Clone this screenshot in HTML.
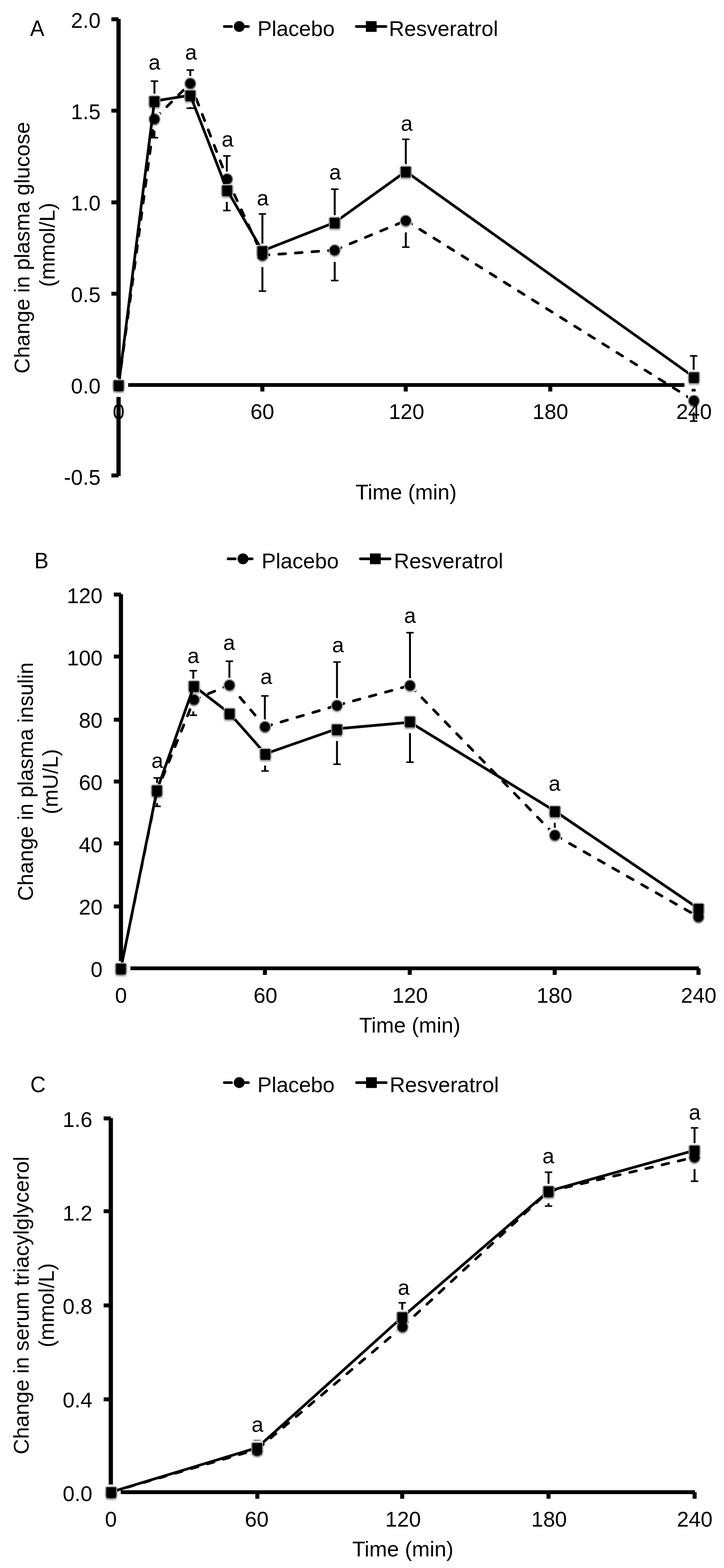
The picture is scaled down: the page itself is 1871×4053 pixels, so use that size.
<!DOCTYPE html>
<html lang="en">
<head>
<meta charset="utf-8">
<title>Figure: postprandial glucose, insulin and triacylglycerol</title>
<style>
html,body{margin:0;padding:0;background:#fff;}
body{width:1871px;height:4053px;overflow:hidden;}
svg{display:block;}
svg text{font-family:"Liberation Sans", Arial, Helvetica, sans-serif;fill:#000;}
</style>
</head>
<body>
<svg width="1871" height="4053" viewBox="0 0 1871 4053">
<defs>
<filter id="sh" x="-50%" y="-50%" width="200%" height="200%">
<feGaussianBlur in="SourceAlpha" stdDeviation="2.4" result="b"/>
<feComponentTransfer in="b"><feFuncA type="linear" slope="0.5"/></feComponentTransfer>
</filter>
</defs>
<rect x="0" y="0" width="1871" height="4053" fill="#fff"/>
<g id="panelA">
<line x1="306.35" y1="48.9" x2="306.35" y2="1230.2" stroke="#000" stroke-width="11" stroke-linecap="butt"/>
<line x1="306.35" y1="995.15" x2="1793.5" y2="995.15" stroke="#000" stroke-width="9.7" stroke-linecap="butt"/>
<line x1="287.85" y1="49.84" x2="306.35" y2="49.84" stroke="#000" stroke-width="10.2" stroke-linecap="butt"/>
<line x1="287.85" y1="286.06" x2="306.35" y2="286.06" stroke="#000" stroke-width="10.2" stroke-linecap="butt"/>
<line x1="287.85" y1="523.1" x2="306.35" y2="523.1" stroke="#000" stroke-width="10.2" stroke-linecap="butt"/>
<line x1="287.85" y1="759.15" x2="306.35" y2="759.15" stroke="#000" stroke-width="10.2" stroke-linecap="butt"/>
<line x1="287.85" y1="995.15" x2="306.35" y2="995.15" stroke="#000" stroke-width="10.2" stroke-linecap="butt"/>
<line x1="287.85" y1="1229" x2="306.35" y2="1229" stroke="#000" stroke-width="10.2" stroke-linecap="butt"/>
<line x1="306.35" y1="995.15" x2="306.35" y2="1012" stroke="#000" stroke-width="10.4" stroke-linecap="butt"/>
<line x1="678" y1="995.15" x2="678" y2="1012" stroke="#000" stroke-width="10.4" stroke-linecap="butt"/>
<line x1="1048.5" y1="995.15" x2="1048.5" y2="1012" stroke="#000" stroke-width="10.4" stroke-linecap="butt"/>
<line x1="1422" y1="995.15" x2="1422" y2="1012" stroke="#000" stroke-width="10.4" stroke-linecap="butt"/>
<line x1="1792.5" y1="995.15" x2="1792.5" y2="1012" stroke="#000" stroke-width="10.4" stroke-linecap="butt"/>
<line x1="399.1" y1="261.2" x2="399.1" y2="209.7" stroke="#000" stroke-width="5" stroke-linecap="butt"/>
<line x1="389.55" y1="209.7" x2="408.65" y2="209.7" stroke="#000" stroke-width="4" stroke-linecap="butt"/>
<line x1="399.1" y1="307.6" x2="399.1" y2="356" stroke="#000" stroke-width="5" stroke-linecap="butt"/>
<line x1="389.55" y1="356" x2="408.65" y2="356" stroke="#000" stroke-width="4" stroke-linecap="butt"/>
<line x1="491.8" y1="215.4" x2="491.8" y2="181.1" stroke="#000" stroke-width="5" stroke-linecap="butt"/>
<line x1="482.25" y1="181.1" x2="501.35" y2="181.1" stroke="#000" stroke-width="4" stroke-linecap="butt"/>
<line x1="491.8" y1="246.2" x2="491.8" y2="279.7" stroke="#000" stroke-width="5" stroke-linecap="butt"/>
<line x1="482.25" y1="279.7" x2="501.35" y2="279.7" stroke="#000" stroke-width="4" stroke-linecap="butt"/>
<line x1="586.2" y1="462.5" x2="586.2" y2="403" stroke="#000" stroke-width="5" stroke-linecap="butt"/>
<line x1="576.65" y1="403" x2="595.75" y2="403" stroke="#000" stroke-width="4" stroke-linecap="butt"/>
<line x1="586.2" y1="491.5" x2="586.2" y2="544.2" stroke="#000" stroke-width="5" stroke-linecap="butt"/>
<line x1="576.65" y1="544.2" x2="595.75" y2="544.2" stroke="#000" stroke-width="4" stroke-linecap="butt"/>
<line x1="678.1" y1="648.6" x2="678.1" y2="553" stroke="#000" stroke-width="5" stroke-linecap="butt"/>
<line x1="668.55" y1="553" x2="687.65" y2="553" stroke="#000" stroke-width="4" stroke-linecap="butt"/>
<line x1="678.1" y1="660" x2="678.1" y2="752.5" stroke="#000" stroke-width="5" stroke-linecap="butt"/>
<line x1="668.55" y1="752.5" x2="687.65" y2="752.5" stroke="#000" stroke-width="4" stroke-linecap="butt"/>
<line x1="865" y1="575" x2="865" y2="489" stroke="#000" stroke-width="5" stroke-linecap="butt"/>
<line x1="855.45" y1="489" x2="874.55" y2="489" stroke="#000" stroke-width="4" stroke-linecap="butt"/>
<line x1="865" y1="646.6" x2="865" y2="725.2" stroke="#000" stroke-width="5" stroke-linecap="butt"/>
<line x1="855.45" y1="725.2" x2="874.55" y2="725.2" stroke="#000" stroke-width="4" stroke-linecap="butt"/>
<line x1="1048.7" y1="443.2" x2="1048.7" y2="360" stroke="#000" stroke-width="5" stroke-linecap="butt"/>
<line x1="1039.15" y1="360" x2="1058.25" y2="360" stroke="#000" stroke-width="4" stroke-linecap="butt"/>
<line x1="1048.7" y1="570.2" x2="1048.7" y2="638.7" stroke="#000" stroke-width="5" stroke-linecap="butt"/>
<line x1="1039.15" y1="638.7" x2="1058.25" y2="638.7" stroke="#000" stroke-width="4" stroke-linecap="butt"/>
<line x1="1792.6" y1="974.8" x2="1792.6" y2="919.9" stroke="#000" stroke-width="5" stroke-linecap="butt"/>
<line x1="1783.05" y1="919.9" x2="1802.15" y2="919.9" stroke="#000" stroke-width="4" stroke-linecap="butt"/>
<line x1="1792.6" y1="1035.6" x2="1792.6" y2="1088.5" stroke="#000" stroke-width="5" stroke-linecap="butt"/>
<line x1="1783.05" y1="1088.5" x2="1802.15" y2="1088.5" stroke="#000" stroke-width="4" stroke-linecap="butt"/>
<rect x="282.1" y="976.7" width="49" height="49.2" fill="#fff"/>
<rect x="374.6" y="288.8" width="49" height="49.2" fill="#fff"/>
<rect x="467.3" y="196.6" width="49" height="49.2" fill="#fff"/>
<rect x="562.5" y="443.7" width="49" height="49.2" fill="#fff"/>
<rect x="653.6" y="641.2" width="49" height="49.2" fill="#fff"/>
<rect x="840.5" y="627.8" width="49" height="49.2" fill="#fff"/>
<rect x="1024.2" y="551.4" width="49" height="49.2" fill="#fff"/>
<rect x="1768.8" y="1016.8" width="49" height="49.2" fill="#fff"/>
<rect x="282.1" y="976.7" width="49" height="49.2" fill="#fff"/>
<rect x="374.6" y="242.4" width="49" height="49.2" fill="#fff"/>
<rect x="467.3" y="227.4" width="49" height="49.2" fill="#fff"/>
<rect x="562.5" y="472.7" width="49" height="49.2" fill="#fff"/>
<rect x="653.6" y="629.8" width="49" height="49.2" fill="#fff"/>
<rect x="840.5" y="556.2" width="49" height="49.2" fill="#fff"/>
<rect x="1024.2" y="424.4" width="49" height="49.2" fill="#fff"/>
<rect x="1768.8" y="956" width="49" height="49.2" fill="#fff"/>
<line x1="306.6" y1="995.5" x2="399.1" y2="307.6" stroke="#000" stroke-width="7" stroke-linecap="round" stroke-dasharray="17.4 25.5" stroke-dashoffset="39.71"/>
<line x1="399.1" y1="307.6" x2="491.8" y2="215.4" stroke="#000" stroke-width="7" stroke-linecap="round" stroke-dasharray="17.4 25.5" stroke-dashoffset="40.67"/>
<line x1="491.8" y1="215.4" x2="587" y2="462.5" stroke="#000" stroke-width="7" stroke-linecap="round" stroke-dasharray="17.4 25.5" stroke-dashoffset="42.82"/>
<line x1="587" y1="462.5" x2="678.1" y2="660" stroke="#000" stroke-width="7" stroke-linecap="round" stroke-dasharray="17.4 25.5" stroke-dashoffset="41.04"/>
<line x1="678.1" y1="660" x2="865" y2="646.6" stroke="#000" stroke-width="7" stroke-linecap="round" stroke-dasharray="17.4 25.5" stroke-dashoffset="0.32"/>
<line x1="865" y1="646.6" x2="1048.7" y2="570.2" stroke="#000" stroke-width="7" stroke-linecap="round" stroke-dasharray="17.4 25.5" stroke-dashoffset="42.8"/>
<line x1="1048.7" y1="570.2" x2="1793.3" y2="1035.6" stroke="#000" stroke-width="7" stroke-linecap="round" stroke-dasharray="17.4 25.5" stroke-dashoffset="0.23"/>
<rect x="291.25" y="980.15" width="30.7" height="30.7" fill="#fff"/>
<circle cx="306.6" cy="999.5" r="13" fill="#000" filter="url(#sh)"/>
<circle cx="306.6" cy="995.5" r="12.5" fill="#000" stroke="#000" stroke-opacity="0.42" stroke-width="5.6" paint-order="stroke"/>
<rect x="383.75" y="292.25" width="30.7" height="30.7" fill="#fff"/>
<circle cx="399.1" cy="311.6" r="13" fill="#000" filter="url(#sh)"/>
<circle cx="399.1" cy="307.6" r="12.5" fill="#000" stroke="#000" stroke-opacity="0.42" stroke-width="5.6" paint-order="stroke"/>
<rect x="476.45" y="200.05" width="30.7" height="30.7" fill="#fff"/>
<circle cx="491.8" cy="219.4" r="13" fill="#000" filter="url(#sh)"/>
<circle cx="491.8" cy="215.4" r="12.5" fill="#000" stroke="#000" stroke-opacity="0.42" stroke-width="5.6" paint-order="stroke"/>
<rect x="571.65" y="447.15" width="30.7" height="30.7" fill="#fff"/>
<circle cx="587" cy="466.5" r="13" fill="#000" filter="url(#sh)"/>
<circle cx="587" cy="462.5" r="12.5" fill="#000" stroke="#000" stroke-opacity="0.42" stroke-width="5.6" paint-order="stroke"/>
<rect x="662.75" y="644.65" width="30.7" height="30.7" fill="#fff"/>
<circle cx="678.1" cy="664" r="13" fill="#000" filter="url(#sh)"/>
<circle cx="678.1" cy="660" r="12.5" fill="#000" stroke="#000" stroke-opacity="0.42" stroke-width="5.6" paint-order="stroke"/>
<rect x="849.65" y="631.25" width="30.7" height="30.7" fill="#fff"/>
<circle cx="865" cy="650.6" r="13" fill="#000" filter="url(#sh)"/>
<circle cx="865" cy="646.6" r="12.5" fill="#000" stroke="#000" stroke-opacity="0.42" stroke-width="5.6" paint-order="stroke"/>
<rect x="1033.35" y="554.85" width="30.7" height="30.7" fill="#fff"/>
<circle cx="1048.7" cy="574.2" r="13" fill="#000" filter="url(#sh)"/>
<circle cx="1048.7" cy="570.2" r="12.5" fill="#000" stroke="#000" stroke-opacity="0.42" stroke-width="5.6" paint-order="stroke"/>
<rect x="1777.95" y="1020.25" width="30.7" height="30.7" fill="#fff"/>
<circle cx="1793.3" cy="1039.6" r="13" fill="#000" filter="url(#sh)"/>
<circle cx="1793.3" cy="1035.6" r="12.5" fill="#000" stroke="#000" stroke-opacity="0.42" stroke-width="5.6" paint-order="stroke"/>
<polyline points="306.6,995.5 399.1,261.2 491.8,246.2 587,491.5 678.1,648.6 865,575 1048.7,443.2 1793.3,974.8" fill="none" stroke="#000" stroke-width="7" stroke-linecap="butt" stroke-linejoin="round"/>
<rect x="291.25" y="980.15" width="30.7" height="30.7" fill="#fff"/>
<rect x="293" y="986.5" width="27.2" height="28" fill="#000" filter="url(#sh)"/>
<rect x="291.25" y="983.2" width="30.7" height="24.4" fill="#808080"/>
<rect x="294.2" y="980.15" width="24.8" height="4" fill="#b4b4b4"/>
<rect x="294.2" y="983.2" width="24.8" height="27.7" fill="#000"/>
<rect x="383.75" y="245.85" width="30.7" height="30.7" fill="#fff"/>
<rect x="385.5" y="252.2" width="27.2" height="28" fill="#000" filter="url(#sh)"/>
<rect x="383.75" y="248.9" width="30.7" height="24.4" fill="#808080"/>
<rect x="386.7" y="245.85" width="24.8" height="4" fill="#b4b4b4"/>
<rect x="386.7" y="248.9" width="24.8" height="27.7" fill="#000"/>
<rect x="476.45" y="230.85" width="30.7" height="30.7" fill="#fff"/>
<rect x="478.2" y="237.2" width="27.2" height="28" fill="#000" filter="url(#sh)"/>
<rect x="476.45" y="233.9" width="30.7" height="24.4" fill="#808080"/>
<rect x="479.4" y="230.85" width="24.8" height="4" fill="#b4b4b4"/>
<rect x="479.4" y="233.9" width="24.8" height="27.7" fill="#000"/>
<rect x="571.65" y="476.15" width="30.7" height="30.7" fill="#fff"/>
<rect x="573.4" y="482.5" width="27.2" height="28" fill="#000" filter="url(#sh)"/>
<rect x="571.65" y="479.2" width="30.7" height="24.4" fill="#808080"/>
<rect x="574.6" y="476.15" width="24.8" height="4" fill="#b4b4b4"/>
<rect x="574.6" y="479.2" width="24.8" height="27.7" fill="#000"/>
<rect x="662.75" y="633.25" width="30.7" height="30.7" fill="#fff"/>
<rect x="664.5" y="639.6" width="27.2" height="28" fill="#000" filter="url(#sh)"/>
<rect x="662.75" y="636.3" width="30.7" height="24.4" fill="#808080"/>
<rect x="665.7" y="633.25" width="24.8" height="4" fill="#b4b4b4"/>
<rect x="665.7" y="636.3" width="24.8" height="27.7" fill="#000"/>
<rect x="849.65" y="559.65" width="30.7" height="30.7" fill="#fff"/>
<rect x="851.4" y="566" width="27.2" height="28" fill="#000" filter="url(#sh)"/>
<rect x="849.65" y="562.7" width="30.7" height="24.4" fill="#808080"/>
<rect x="852.6" y="559.65" width="24.8" height="4" fill="#b4b4b4"/>
<rect x="852.6" y="562.7" width="24.8" height="27.7" fill="#000"/>
<rect x="1033.35" y="427.85" width="30.7" height="30.7" fill="#fff"/>
<rect x="1035.1" y="434.2" width="27.2" height="28" fill="#000" filter="url(#sh)"/>
<rect x="1033.35" y="430.9" width="30.7" height="24.4" fill="#808080"/>
<rect x="1036.3" y="427.85" width="24.8" height="4" fill="#b4b4b4"/>
<rect x="1036.3" y="430.9" width="24.8" height="27.7" fill="#000"/>
<rect x="1777.95" y="959.45" width="30.7" height="30.7" fill="#fff"/>
<rect x="1779.7" y="965.8" width="27.2" height="28" fill="#000" filter="url(#sh)"/>
<rect x="1777.95" y="962.5" width="30.7" height="24.4" fill="#808080"/>
<rect x="1780.9" y="959.45" width="24.8" height="4" fill="#b4b4b4"/>
<rect x="1780.9" y="962.5" width="24.8" height="27.7" fill="#000"/>
<text x="260" y="71.6" font-size="55.2" text-anchor="end">2.0</text>
<text x="260" y="307.85" font-size="55.2" text-anchor="end">1.5</text>
<text x="260" y="544.1" font-size="55.2" text-anchor="end">1.0</text>
<text x="260" y="780.5" font-size="55.2" text-anchor="end">0.5</text>
<text x="260" y="1016.6" font-size="55.2" text-anchor="end">0.0</text>
<text x="260" y="1253" font-size="55.2" text-anchor="end">-0.5</text>
<text x="306.6" y="1083.4" font-size="55.2" text-anchor="middle">0</text>
<text x="678" y="1083.4" font-size="55.2" text-anchor="middle">60</text>
<text x="1050.45" y="1083.4" font-size="55.2" text-anchor="middle">120</text>
<text x="1422.4" y="1083.4" font-size="55.2" text-anchor="middle">180</text>
<text x="1793.45" y="1083.4" font-size="55.2" text-anchor="middle">240</text>
<text x="399" y="180" font-size="55.2" text-anchor="middle">a</text>
<text x="493.5" y="154" font-size="55.2" text-anchor="middle">a</text>
<text x="588" y="379" font-size="55.2" text-anchor="middle">a</text>
<text x="679" y="530.5" font-size="55.2" text-anchor="middle">a</text>
<text x="866" y="464" font-size="55.2" text-anchor="middle">a</text>
<text x="1051" y="338" font-size="55.2" text-anchor="middle">a</text>
<text transform="translate(77.8 92.7) scale(1 1.04)" font-size="55.2" text-anchor="start">A</text>
<text transform="translate(1049.3 1291.3) scale(1 1.02)" font-size="55.2" text-anchor="middle">Time (min)</text>
<text transform="translate(76 640.2) rotate(-90) scale(1 1.02)" font-size="55.2" text-anchor="middle">Change in plasma glucose</text>
<text transform="translate(140.9 632.85) rotate(-90) scale(1 1.02)" font-size="55.2" text-anchor="middle">(mmol/L)</text>
<line x1="579.75" y1="68.5" x2="598.3" y2="68.5" stroke="#000" stroke-width="6.9" stroke-linecap="round"/>
<line x1="634.3" y1="68.5" x2="641.85" y2="68.5" stroke="#000" stroke-width="6.9" stroke-linecap="round"/>
<circle cx="618.2" cy="68.5" r="14.1" fill="#000"/>
<text transform="translate(665.5 92.9) scale(1 1.02)" font-size="55.2" text-anchor="start">Placebo</text>
<line x1="920.95" y1="68.5" x2="997.55" y2="68.5" stroke="#000" stroke-width="6.9" stroke-linecap="round"/>
<rect x="945.5" y="54.6" width="27.8" height="27.8" fill="#000"/>
<text transform="translate(1005 92.9) scale(1 1.02)" font-size="55.2" text-anchor="start">Resveratrol</text>
</g>
<g id="panelB">
<line x1="312.6" y1="1535.75" x2="312.6" y2="2507.8" stroke="#000" stroke-width="10.6" stroke-linecap="butt"/>
<line x1="312.6" y1="2502.9" x2="1806.1" y2="2502.9" stroke="#000" stroke-width="9.8" stroke-linecap="butt"/>
<line x1="294.2" y1="1536.8" x2="312.6" y2="1536.8" stroke="#000" stroke-width="10.2" stroke-linecap="butt"/>
<line x1="294.2" y1="1697" x2="312.6" y2="1697" stroke="#000" stroke-width="10.2" stroke-linecap="butt"/>
<line x1="294.2" y1="1860.3" x2="312.6" y2="1860.3" stroke="#000" stroke-width="10.2" stroke-linecap="butt"/>
<line x1="294.2" y1="2020.1" x2="312.6" y2="2020.1" stroke="#000" stroke-width="10.2" stroke-linecap="butt"/>
<line x1="294.2" y1="2180" x2="312.6" y2="2180" stroke="#000" stroke-width="10.2" stroke-linecap="butt"/>
<line x1="294.2" y1="2343.1" x2="312.6" y2="2343.1" stroke="#000" stroke-width="10.2" stroke-linecap="butt"/>
<line x1="294.2" y1="2502.9" x2="312.6" y2="2502.9" stroke="#000" stroke-width="10.2" stroke-linecap="butt"/>
<line x1="312.5" y1="2502.9" x2="312.5" y2="2519.9" stroke="#000" stroke-width="10.4" stroke-linecap="butt"/>
<line x1="684.6" y1="2502.9" x2="684.6" y2="2519.9" stroke="#000" stroke-width="10.4" stroke-linecap="butt"/>
<line x1="1058.9" y1="2502.9" x2="1058.9" y2="2519.9" stroke="#000" stroke-width="10.4" stroke-linecap="butt"/>
<line x1="1433.5" y1="2502.9" x2="1433.5" y2="2519.9" stroke="#000" stroke-width="10.4" stroke-linecap="butt"/>
<line x1="1805.06" y1="2502.9" x2="1805.06" y2="2519.9" stroke="#000" stroke-width="10.4" stroke-linecap="butt"/>
<line x1="405.9" y1="2042.5" x2="405.9" y2="2010.8" stroke="#000" stroke-width="5" stroke-linecap="butt"/>
<line x1="396.35" y1="2010.8" x2="415.45" y2="2010.8" stroke="#000" stroke-width="4" stroke-linecap="butt"/>
<line x1="405.9" y1="2045.5" x2="405.9" y2="2084.2" stroke="#000" stroke-width="5" stroke-linecap="butt"/>
<line x1="396.35" y1="2084.2" x2="415.45" y2="2084.2" stroke="#000" stroke-width="4" stroke-linecap="butt"/>
<line x1="499.6" y1="1773.1" x2="499.6" y2="1733.7" stroke="#000" stroke-width="5" stroke-linecap="butt"/>
<line x1="490.05" y1="1733.7" x2="509.15" y2="1733.7" stroke="#000" stroke-width="4" stroke-linecap="butt"/>
<line x1="499.6" y1="1808.4" x2="499.6" y2="1848.8" stroke="#000" stroke-width="5" stroke-linecap="butt"/>
<line x1="490.05" y1="1848.8" x2="509.15" y2="1848.8" stroke="#000" stroke-width="4" stroke-linecap="butt"/>
<line x1="592.8" y1="1770.7" x2="592.8" y2="1709.2" stroke="#000" stroke-width="5" stroke-linecap="butt"/>
<line x1="583.25" y1="1709.2" x2="602.35" y2="1709.2" stroke="#000" stroke-width="4" stroke-linecap="butt"/>
<line x1="684.4" y1="1878.4" x2="684.4" y2="1798.8" stroke="#000" stroke-width="5" stroke-linecap="butt"/>
<line x1="674.85" y1="1798.8" x2="693.95" y2="1798.8" stroke="#000" stroke-width="4" stroke-linecap="butt"/>
<line x1="685" y1="1948.5" x2="685" y2="1992.8" stroke="#000" stroke-width="5" stroke-linecap="butt"/>
<line x1="675.45" y1="1992.8" x2="694.55" y2="1992.8" stroke="#000" stroke-width="4" stroke-linecap="butt"/>
<line x1="870.9" y1="1823.3" x2="870.9" y2="1711.3" stroke="#000" stroke-width="5" stroke-linecap="butt"/>
<line x1="861.35" y1="1711.3" x2="880.45" y2="1711.3" stroke="#000" stroke-width="4" stroke-linecap="butt"/>
<line x1="870.9" y1="1884.9" x2="870.9" y2="1975.4" stroke="#000" stroke-width="5" stroke-linecap="butt"/>
<line x1="861.35" y1="1975.4" x2="880.45" y2="1975.4" stroke="#000" stroke-width="4" stroke-linecap="butt"/>
<line x1="1059.5" y1="1771.8" x2="1059.5" y2="1635.4" stroke="#000" stroke-width="5" stroke-linecap="butt"/>
<line x1="1049.95" y1="1635.4" x2="1069.05" y2="1635.4" stroke="#000" stroke-width="4" stroke-linecap="butt"/>
<line x1="1059.5" y1="1864.6" x2="1059.5" y2="1970.1" stroke="#000" stroke-width="5" stroke-linecap="butt"/>
<line x1="1049.95" y1="1970.1" x2="1069.05" y2="1970.1" stroke="#000" stroke-width="4" stroke-linecap="butt"/>
<line x1="1433.6" y1="2158.7" x2="1433.6" y2="2112" stroke="#000" stroke-width="5" stroke-linecap="butt"/>
<line x1="1424.05" y1="2112" x2="1443.15" y2="2112" stroke="#000" stroke-width="4" stroke-linecap="butt"/>
<rect x="288" y="2484.4" width="49" height="49.2" fill="#fff"/>
<rect x="381.1" y="2026.7" width="49" height="49.2" fill="#fff"/>
<rect x="476.9" y="1789.6" width="49" height="49.2" fill="#fff"/>
<rect x="568.6" y="1751.9" width="49" height="49.2" fill="#fff"/>
<rect x="660.4" y="1859.6" width="49" height="49.2" fill="#fff"/>
<rect x="846.4" y="1804.5" width="49" height="49.2" fill="#fff"/>
<rect x="1035" y="1753" width="49" height="49.2" fill="#fff"/>
<rect x="1409.6" y="2139.9" width="49" height="49.2" fill="#fff"/>
<rect x="1780.6" y="2351.1" width="49" height="49.2" fill="#fff"/>
<rect x="288" y="2484.4" width="49" height="49.2" fill="#fff"/>
<rect x="381.1" y="2023.7" width="49" height="49.2" fill="#fff"/>
<rect x="476.7" y="1754.3" width="49" height="49.2" fill="#fff"/>
<rect x="568.9" y="1825.25" width="49" height="49.2" fill="#fff"/>
<rect x="661.3" y="1929.7" width="49" height="49.2" fill="#fff"/>
<rect x="846.4" y="1866.1" width="49" height="49.2" fill="#fff"/>
<rect x="1035" y="1845.8" width="49" height="49.2" fill="#fff"/>
<rect x="1409.6" y="2077.7" width="49" height="49.2" fill="#fff"/>
<rect x="1780.6" y="2329.7" width="49" height="49.2" fill="#fff"/>
<line x1="312.5" y1="2503.2" x2="405.6" y2="2045.5" stroke="#000" stroke-width="7" stroke-linecap="round" stroke-dasharray="17.4 25.5" stroke-dashoffset="0"/>
<line x1="405.6" y1="2045.5" x2="501.4" y2="1808.4" stroke="#000" stroke-width="7" stroke-linecap="round" stroke-dasharray="17.4 25.5" stroke-dashoffset="3.97"/>
<line x1="501.4" y1="1808.4" x2="593.1" y2="1770.7" stroke="#000" stroke-width="7" stroke-linecap="round" stroke-dasharray="17.4 25.5" stroke-dashoffset="2.57"/>
<line x1="593.1" y1="1770.7" x2="684.9" y2="1878.4" stroke="#000" stroke-width="7" stroke-linecap="round" stroke-dasharray="17.4 25.5" stroke-dashoffset="1.28"/>
<line x1="684.9" y1="1878.4" x2="870.9" y2="1823.3" stroke="#000" stroke-width="7" stroke-linecap="round" stroke-dasharray="17.4 25.5" stroke-dashoffset="42.66"/>
<line x1="870.9" y1="1823.3" x2="1059.5" y2="1771.8" stroke="#000" stroke-width="7" stroke-linecap="round" stroke-dasharray="17.4 25.5" stroke-dashoffset="41.83"/>
<line x1="1059.5" y1="1771.8" x2="1434.1" y2="2158.7" stroke="#000" stroke-width="7" stroke-linecap="round" stroke-dasharray="17.4 25.5" stroke-dashoffset="41.23"/>
<line x1="1434.1" y1="2158.7" x2="1805.1" y2="2369.9" stroke="#000" stroke-width="7" stroke-linecap="round" stroke-dasharray="17.4 25.5" stroke-dashoffset="42.36"/>
<rect x="297.15" y="2487.85" width="30.7" height="30.7" fill="#fff"/>
<circle cx="312.5" cy="2507.2" r="13" fill="#000" filter="url(#sh)"/>
<circle cx="312.5" cy="2503.2" r="12.5" fill="#000" stroke="#000" stroke-opacity="0.42" stroke-width="5.6" paint-order="stroke"/>
<rect x="390.25" y="2030.15" width="30.7" height="30.7" fill="#fff"/>
<circle cx="405.6" cy="2049.5" r="13" fill="#000" filter="url(#sh)"/>
<circle cx="405.6" cy="2045.5" r="12.5" fill="#000" stroke="#000" stroke-opacity="0.42" stroke-width="5.6" paint-order="stroke"/>
<rect x="486.05" y="1793.05" width="30.7" height="30.7" fill="#fff"/>
<circle cx="501.4" cy="1812.4" r="13" fill="#000" filter="url(#sh)"/>
<circle cx="501.4" cy="1808.4" r="12.5" fill="#000" stroke="#000" stroke-opacity="0.42" stroke-width="5.6" paint-order="stroke"/>
<rect x="577.75" y="1755.35" width="30.7" height="30.7" fill="#fff"/>
<circle cx="593.1" cy="1774.7" r="13" fill="#000" filter="url(#sh)"/>
<circle cx="593.1" cy="1770.7" r="12.5" fill="#000" stroke="#000" stroke-opacity="0.42" stroke-width="5.6" paint-order="stroke"/>
<rect x="669.55" y="1863.05" width="30.7" height="30.7" fill="#fff"/>
<circle cx="684.9" cy="1882.4" r="13" fill="#000" filter="url(#sh)"/>
<circle cx="684.9" cy="1878.4" r="12.5" fill="#000" stroke="#000" stroke-opacity="0.42" stroke-width="5.6" paint-order="stroke"/>
<rect x="855.55" y="1807.95" width="30.7" height="30.7" fill="#fff"/>
<circle cx="870.9" cy="1827.3" r="13" fill="#000" filter="url(#sh)"/>
<circle cx="870.9" cy="1823.3" r="12.5" fill="#000" stroke="#000" stroke-opacity="0.42" stroke-width="5.6" paint-order="stroke"/>
<rect x="1044.15" y="1756.45" width="30.7" height="30.7" fill="#fff"/>
<circle cx="1059.5" cy="1775.8" r="13" fill="#000" filter="url(#sh)"/>
<circle cx="1059.5" cy="1771.8" r="12.5" fill="#000" stroke="#000" stroke-opacity="0.42" stroke-width="5.6" paint-order="stroke"/>
<rect x="1418.75" y="2143.35" width="30.7" height="30.7" fill="#fff"/>
<circle cx="1434.1" cy="2162.7" r="13" fill="#000" filter="url(#sh)"/>
<circle cx="1434.1" cy="2158.7" r="12.5" fill="#000" stroke="#000" stroke-opacity="0.42" stroke-width="5.6" paint-order="stroke"/>
<rect x="1789.75" y="2354.55" width="30.7" height="30.7" fill="#fff"/>
<circle cx="1805.1" cy="2373.9" r="13" fill="#000" filter="url(#sh)"/>
<circle cx="1805.1" cy="2369.9" r="12.5" fill="#000" stroke="#000" stroke-opacity="0.42" stroke-width="5.6" paint-order="stroke"/>
<polyline points="312.5,2503.2 405.6,2042.5 501.2,1773.1 593.4,1844.05 685.8,1948.5 870.9,1883.8 1059.5,1866.9 1434.1,2096.5 1805.1,2348.5" fill="none" stroke="#000" stroke-width="7" stroke-linecap="butt" stroke-linejoin="round"/>
<rect x="297.15" y="2487.85" width="30.7" height="30.7" fill="#fff"/>
<rect x="298.9" y="2494.2" width="27.2" height="28" fill="#000" filter="url(#sh)"/>
<rect x="297.15" y="2490.9" width="30.7" height="24.4" fill="#808080"/>
<rect x="300.1" y="2487.85" width="24.8" height="4" fill="#b4b4b4"/>
<rect x="300.1" y="2490.9" width="24.8" height="27.7" fill="#000"/>
<rect x="390.25" y="2027.15" width="30.7" height="30.7" fill="#fff"/>
<rect x="392" y="2033.5" width="27.2" height="28" fill="#000" filter="url(#sh)"/>
<rect x="390.25" y="2030.2" width="30.7" height="24.4" fill="#808080"/>
<rect x="393.2" y="2027.15" width="24.8" height="4" fill="#b4b4b4"/>
<rect x="393.2" y="2030.2" width="24.8" height="27.7" fill="#000"/>
<rect x="485.85" y="1757.75" width="30.7" height="30.7" fill="#fff"/>
<rect x="487.6" y="1764.1" width="27.2" height="28" fill="#000" filter="url(#sh)"/>
<rect x="485.85" y="1760.8" width="30.7" height="24.4" fill="#808080"/>
<rect x="488.8" y="1757.75" width="24.8" height="4" fill="#b4b4b4"/>
<rect x="488.8" y="1760.8" width="24.8" height="27.7" fill="#000"/>
<rect x="578.05" y="1828.7" width="30.7" height="30.7" fill="#fff"/>
<rect x="579.8" y="1835.05" width="27.2" height="28" fill="#000" filter="url(#sh)"/>
<rect x="578.05" y="1831.75" width="30.7" height="24.4" fill="#808080"/>
<rect x="581" y="1828.7" width="24.8" height="4" fill="#b4b4b4"/>
<rect x="581" y="1831.75" width="24.8" height="27.7" fill="#000"/>
<rect x="670.45" y="1933.15" width="30.7" height="30.7" fill="#fff"/>
<rect x="672.2" y="1939.5" width="27.2" height="28" fill="#000" filter="url(#sh)"/>
<rect x="670.45" y="1936.2" width="30.7" height="24.4" fill="#808080"/>
<rect x="673.4" y="1933.15" width="24.8" height="4" fill="#b4b4b4"/>
<rect x="673.4" y="1936.2" width="24.8" height="27.7" fill="#000"/>
<rect x="855.55" y="1869.55" width="30.7" height="30.7" fill="#fff"/>
<rect x="857.3" y="1875.9" width="27.2" height="28" fill="#000" filter="url(#sh)"/>
<rect x="855.55" y="1872.6" width="30.7" height="24.4" fill="#808080"/>
<rect x="858.5" y="1869.55" width="24.8" height="4" fill="#b4b4b4"/>
<rect x="858.5" y="1872.6" width="24.8" height="27.7" fill="#000"/>
<rect x="1044.15" y="1849.25" width="30.7" height="30.7" fill="#fff"/>
<rect x="1045.9" y="1855.6" width="27.2" height="28" fill="#000" filter="url(#sh)"/>
<rect x="1044.15" y="1852.3" width="30.7" height="24.4" fill="#808080"/>
<rect x="1047.1" y="1849.25" width="24.8" height="4" fill="#b4b4b4"/>
<rect x="1047.1" y="1852.3" width="24.8" height="27.7" fill="#000"/>
<rect x="1418.75" y="2081.15" width="30.7" height="30.7" fill="#fff"/>
<rect x="1420.5" y="2087.5" width="27.2" height="28" fill="#000" filter="url(#sh)"/>
<rect x="1418.75" y="2084.2" width="30.7" height="24.4" fill="#808080"/>
<rect x="1421.7" y="2081.15" width="24.8" height="4" fill="#b4b4b4"/>
<rect x="1421.7" y="2084.2" width="24.8" height="27.7" fill="#000"/>
<rect x="1789.75" y="2333.15" width="30.7" height="30.7" fill="#fff"/>
<rect x="1791.5" y="2339.5" width="27.2" height="28" fill="#000" filter="url(#sh)"/>
<rect x="1789.75" y="2336.2" width="30.7" height="24.4" fill="#808080"/>
<rect x="1792.7" y="2333.15" width="24.8" height="4" fill="#b4b4b4"/>
<rect x="1792.7" y="2336.2" width="24.8" height="27.7" fill="#000"/>
<text x="265.05" y="1558.6" font-size="55.2" text-anchor="end">120</text>
<text x="265.05" y="1719.7" font-size="55.2" text-anchor="end">100</text>
<text x="265.05" y="1880.9" font-size="55.2" text-anchor="end">80</text>
<text x="265.05" y="2042" font-size="55.2" text-anchor="end">60</text>
<text x="265.05" y="2203.1" font-size="55.2" text-anchor="end">40</text>
<text x="265.05" y="2364.3" font-size="55.2" text-anchor="end">20</text>
<text x="265.05" y="2525.4" font-size="55.2" text-anchor="end">0</text>
<text x="312.6" y="2591.8" font-size="55.2" text-anchor="middle">0</text>
<text x="685.9" y="2591.8" font-size="55.2" text-anchor="middle">60</text>
<text x="1059.7" y="2591.8" font-size="55.2" text-anchor="middle">120</text>
<text x="1432.8" y="2591.8" font-size="55.2" text-anchor="middle">180</text>
<text x="1805.5" y="2591.8" font-size="55.2" text-anchor="middle">240</text>
<text x="406.5" y="1985.2" font-size="55.2" text-anchor="middle">a</text>
<text x="499.7" y="1713.8" font-size="55.2" text-anchor="middle">a</text>
<text x="592" y="1680.2" font-size="55.2" text-anchor="middle">a</text>
<text x="688.1" y="1768.3" font-size="55.2" text-anchor="middle">a</text>
<text x="873.5" y="1685.8" font-size="55.2" text-anchor="middle">a</text>
<text x="1059.7" y="1609.7" font-size="55.2" text-anchor="middle">a</text>
<text x="1433" y="2044" font-size="55.2" text-anchor="middle">a</text>
<text transform="translate(88.8 1468.9) scale(1 1.04)" font-size="55.2" text-anchor="start">B</text>
<text transform="translate(1059 2669.4) scale(1 1.02)" font-size="55.2" text-anchor="middle">Time (min)</text>
<text transform="translate(84.9 2020.45) rotate(-90) scale(1 1.02)" font-size="55.2" text-anchor="middle">Change in plasma insulin</text>
<text transform="translate(148.96 2020.5) rotate(-90) scale(1 1.02)" font-size="55.2" text-anchor="middle">(mU/L)</text>
<line x1="589.45" y1="1444.5" x2="608" y2="1444.5" stroke="#000" stroke-width="6.9" stroke-linecap="round"/>
<line x1="644" y1="1444.5" x2="651.55" y2="1444.5" stroke="#000" stroke-width="6.9" stroke-linecap="round"/>
<circle cx="627.9" cy="1444.5" r="14.1" fill="#000"/>
<text transform="translate(676 1468.9) scale(1 1.02)" font-size="55.2" text-anchor="start">Placebo</text>
<line x1="931.45" y1="1444.5" x2="1008.05" y2="1444.5" stroke="#000" stroke-width="6.9" stroke-linecap="round"/>
<rect x="956" y="1430.6" width="27.8" height="27.8" fill="#000"/>
<text transform="translate(1018 1468.9) scale(1 1.02)" font-size="55.2" text-anchor="start">Resveratrol</text>
</g>
<g id="panelC">
<line x1="286.35" y1="2890" x2="286.35" y2="3862" stroke="#000" stroke-width="11" stroke-linecap="butt"/>
<line x1="286.35" y1="3857" x2="1796" y2="3857" stroke="#000" stroke-width="9.8" stroke-linecap="butt"/>
<line x1="267.85" y1="2890.9" x2="286.35" y2="2890.9" stroke="#000" stroke-width="10.2" stroke-linecap="butt"/>
<line x1="267.85" y1="3130.8" x2="286.35" y2="3130.8" stroke="#000" stroke-width="10.2" stroke-linecap="butt"/>
<line x1="267.85" y1="3374.3" x2="286.35" y2="3374.3" stroke="#000" stroke-width="10.2" stroke-linecap="butt"/>
<line x1="267.85" y1="3617" x2="286.35" y2="3617" stroke="#000" stroke-width="10.2" stroke-linecap="butt"/>
<line x1="267.85" y1="3857" x2="286.35" y2="3857" stroke="#000" stroke-width="10.2" stroke-linecap="butt"/>
<line x1="286.35" y1="3857" x2="286.35" y2="3874" stroke="#000" stroke-width="10.4" stroke-linecap="butt"/>
<line x1="665.05" y1="3857" x2="665.05" y2="3874" stroke="#000" stroke-width="10.4" stroke-linecap="butt"/>
<line x1="1039.4" y1="3857" x2="1039.4" y2="3874" stroke="#000" stroke-width="10.4" stroke-linecap="butt"/>
<line x1="1417.5" y1="3857" x2="1417.5" y2="3874" stroke="#000" stroke-width="10.4" stroke-linecap="butt"/>
<line x1="1795.05" y1="3857" x2="1795.05" y2="3874" stroke="#000" stroke-width="10.4" stroke-linecap="butt"/>
<line x1="664.6" y1="3742.2" x2="664.6" y2="3723.9" stroke="#000" stroke-width="5" stroke-linecap="butt"/>
<line x1="655.05" y1="3723.9" x2="674.15" y2="3723.9" stroke="#000" stroke-width="4" stroke-linecap="butt"/>
<line x1="1039.6" y1="3404.3" x2="1039.6" y2="3367.5" stroke="#000" stroke-width="5" stroke-linecap="butt"/>
<line x1="1030.05" y1="3367.5" x2="1049.15" y2="3367.5" stroke="#000" stroke-width="4" stroke-linecap="butt"/>
<line x1="1417.55" y1="3078.8" x2="1417.55" y2="3030" stroke="#000" stroke-width="5" stroke-linecap="butt"/>
<line x1="1408" y1="3030" x2="1427.1" y2="3030" stroke="#000" stroke-width="4" stroke-linecap="butt"/>
<line x1="1417.55" y1="3079.5" x2="1417.55" y2="3117.5" stroke="#000" stroke-width="5" stroke-linecap="butt"/>
<line x1="1408" y1="3117.5" x2="1427.1" y2="3117.5" stroke="#000" stroke-width="4" stroke-linecap="butt"/>
<line x1="1794.9" y1="2973.6" x2="1794.9" y2="2915.4" stroke="#000" stroke-width="5" stroke-linecap="butt"/>
<line x1="1785.35" y1="2915.4" x2="1804.45" y2="2915.4" stroke="#000" stroke-width="4" stroke-linecap="butt"/>
<line x1="1794.9" y1="2991.3" x2="1794.9" y2="3053.3" stroke="#000" stroke-width="5" stroke-linecap="butt"/>
<line x1="1785.35" y1="3053.3" x2="1804.45" y2="3053.3" stroke="#000" stroke-width="4" stroke-linecap="butt"/>
<rect x="262.9" y="3837.7" width="49" height="49.2" fill="#fff"/>
<rect x="640.1" y="3730.7" width="49" height="49.2" fill="#fff"/>
<rect x="1015.7" y="3410.9" width="49" height="49.2" fill="#fff"/>
<rect x="1393.1" y="3060.7" width="49" height="49.2" fill="#fff"/>
<rect x="1770.3" y="2972.5" width="49" height="49.2" fill="#fff"/>
<rect x="262.9" y="3837.7" width="49" height="49.2" fill="#fff"/>
<rect x="640.1" y="3723.4" width="49" height="49.2" fill="#fff"/>
<rect x="1015.2" y="3385.5" width="49" height="49.2" fill="#fff"/>
<rect x="1393.1" y="3060" width="49" height="49.2" fill="#fff"/>
<rect x="1770.3" y="2954.8" width="49" height="49.2" fill="#fff"/>
<line x1="287.4" y1="3856.5" x2="664.6" y2="3746.5" stroke="#000" stroke-width="7" stroke-linecap="round" stroke-dasharray="17.4 25.5" stroke-dashoffset="41.31"/>
<line x1="664.6" y1="3746.5" x2="1040.2" y2="3429.7" stroke="#000" stroke-width="7" stroke-linecap="round" stroke-dasharray="17.4 25.5" stroke-dashoffset="39.84"/>
<line x1="1040.2" y1="3429.7" x2="1417.6" y2="3079.5" stroke="#000" stroke-width="7" stroke-linecap="round" stroke-dasharray="17.4 25.5" stroke-dashoffset="42.69"/>
<line x1="1417.6" y1="3079.5" x2="1794.8" y2="2991.3" stroke="#000" stroke-width="7" stroke-linecap="round" stroke-dasharray="17.4 25.5" stroke-dashoffset="41.89"/>
<rect x="272.05" y="3841.15" width="30.7" height="30.7" fill="#fff"/>
<circle cx="287.4" cy="3860.5" r="13" fill="#000" filter="url(#sh)"/>
<circle cx="287.4" cy="3856.5" r="12.5" fill="#000" stroke="#000" stroke-opacity="0.42" stroke-width="5.6" paint-order="stroke"/>
<rect x="649.25" y="3734.15" width="30.7" height="30.7" fill="#fff"/>
<circle cx="664.6" cy="3753.5" r="13" fill="#000" filter="url(#sh)"/>
<circle cx="664.6" cy="3749.5" r="12.5" fill="#000" stroke="#000" stroke-opacity="0.42" stroke-width="5.6" paint-order="stroke"/>
<rect x="1024.85" y="3414.35" width="30.7" height="30.7" fill="#fff"/>
<circle cx="1040.2" cy="3433.7" r="13" fill="#000" filter="url(#sh)"/>
<circle cx="1040.2" cy="3429.7" r="12.5" fill="#000" stroke="#000" stroke-opacity="0.42" stroke-width="5.6" paint-order="stroke"/>
<rect x="1402.25" y="3064.15" width="30.7" height="30.7" fill="#fff"/>
<circle cx="1417.6" cy="3083.5" r="13" fill="#000" filter="url(#sh)"/>
<circle cx="1417.6" cy="3079.5" r="12.5" fill="#000" stroke="#000" stroke-opacity="0.42" stroke-width="5.6" paint-order="stroke"/>
<rect x="1779.45" y="2975.95" width="30.7" height="30.7" fill="#fff"/>
<circle cx="1794.8" cy="2995.3" r="13" fill="#000" filter="url(#sh)"/>
<circle cx="1794.8" cy="2991.3" r="12.5" fill="#000" stroke="#000" stroke-opacity="0.42" stroke-width="5.6" paint-order="stroke"/>
<polyline points="287.4,3856.5 664.6,3742.2 1039.7,3404.3 1417.6,3078.8 1794.8,2973.6" fill="none" stroke="#000" stroke-width="7" stroke-linecap="butt" stroke-linejoin="round"/>
<rect x="272.05" y="3841.15" width="30.7" height="30.7" fill="#fff"/>
<rect x="273.8" y="3847.5" width="27.2" height="28" fill="#000" filter="url(#sh)"/>
<rect x="272.05" y="3844.2" width="30.7" height="24.4" fill="#808080"/>
<rect x="275" y="3841.15" width="24.8" height="4" fill="#b4b4b4"/>
<rect x="275" y="3844.2" width="24.8" height="27.7" fill="#000"/>
<rect x="649.25" y="3726.85" width="30.7" height="30.7" fill="#fff"/>
<rect x="651" y="3733.2" width="27.2" height="28" fill="#000" filter="url(#sh)"/>
<rect x="649.25" y="3729.9" width="30.7" height="24.4" fill="#808080"/>
<rect x="652.2" y="3726.85" width="24.8" height="4" fill="#b4b4b4"/>
<rect x="652.2" y="3729.9" width="24.8" height="27.7" fill="#000"/>
<rect x="1024.35" y="3388.95" width="30.7" height="30.7" fill="#fff"/>
<rect x="1026.1" y="3395.3" width="27.2" height="28" fill="#000" filter="url(#sh)"/>
<rect x="1024.35" y="3392" width="30.7" height="24.4" fill="#808080"/>
<rect x="1027.3" y="3388.95" width="24.8" height="4" fill="#b4b4b4"/>
<rect x="1027.3" y="3392" width="24.8" height="27.7" fill="#000"/>
<rect x="1402.25" y="3063.45" width="30.7" height="30.7" fill="#fff"/>
<rect x="1404" y="3069.8" width="27.2" height="28" fill="#000" filter="url(#sh)"/>
<rect x="1402.25" y="3066.5" width="30.7" height="24.4" fill="#808080"/>
<rect x="1405.2" y="3063.45" width="24.8" height="4" fill="#b4b4b4"/>
<rect x="1405.2" y="3066.5" width="24.8" height="27.7" fill="#000"/>
<rect x="1779.45" y="2958.25" width="30.7" height="30.7" fill="#fff"/>
<rect x="1781.2" y="2964.6" width="27.2" height="28" fill="#000" filter="url(#sh)"/>
<rect x="1779.45" y="2961.3" width="30.7" height="24.4" fill="#808080"/>
<rect x="1782.4" y="2958.25" width="24.8" height="4" fill="#b4b4b4"/>
<rect x="1782.4" y="2961.3" width="24.8" height="27.7" fill="#000"/>
<text x="238.6" y="2912.8" font-size="55.2" text-anchor="end">1.6</text>
<text x="238.6" y="3154.5" font-size="55.2" text-anchor="end">1.2</text>
<text x="238.6" y="3396.3" font-size="55.2" text-anchor="end">0.8</text>
<text x="238.6" y="3638" font-size="55.2" text-anchor="end">0.4</text>
<text x="238.6" y="3879.8" font-size="55.2" text-anchor="end">0.0</text>
<text x="286.6" y="3945.7" font-size="55.2" text-anchor="middle">0</text>
<text x="663.45" y="3945.7" font-size="55.2" text-anchor="middle">60</text>
<text x="1041.55" y="3945.7" font-size="55.2" text-anchor="middle">120</text>
<text x="1419" y="3945.7" font-size="55.2" text-anchor="middle">180</text>
<text x="1795.4" y="3945.7" font-size="55.2" text-anchor="middle">240</text>
<text x="665.3" y="3700.7" font-size="55.2" text-anchor="middle">a</text>
<text x="1043.3" y="3346.5" font-size="55.2" text-anchor="middle">a</text>
<text x="1417.05" y="3006.7" font-size="55.2" text-anchor="middle">a</text>
<text x="1795.4" y="2893.7" font-size="55.2" text-anchor="middle">a</text>
<text transform="translate(78.3 2823) scale(1 1.04)" font-size="55.2" text-anchor="start">C</text>
<text transform="translate(1041.1 4023.3) scale(1 1.02)" font-size="55.2" text-anchor="middle">Time (min)</text>
<text transform="translate(74.1 3374.2) rotate(-90) scale(1 1.02)" font-size="55.2" text-anchor="middle">Change in serum triacylglycerol</text>
<text transform="translate(139.05 3374) rotate(-90) scale(1 1.02)" font-size="55.2" text-anchor="middle">(mmol/L)</text>
<line x1="579.75" y1="2798.4" x2="598.3" y2="2798.4" stroke="#000" stroke-width="6.9" stroke-linecap="round"/>
<line x1="634.3" y1="2798.4" x2="641.85" y2="2798.4" stroke="#000" stroke-width="6.9" stroke-linecap="round"/>
<circle cx="618.2" cy="2798.4" r="14.1" fill="#000"/>
<text transform="translate(665.3 2822.8) scale(1 1.02)" font-size="55.2" text-anchor="start">Placebo</text>
<line x1="921.45" y1="2798.4" x2="998.05" y2="2798.4" stroke="#000" stroke-width="6.9" stroke-linecap="round"/>
<rect x="946" y="2784.5" width="27.8" height="27.8" fill="#000"/>
<text transform="translate(1007 2822.8) scale(1 1.02)" font-size="55.2" text-anchor="start">Resveratrol</text>
</g>
</svg>
</body>
</html>
